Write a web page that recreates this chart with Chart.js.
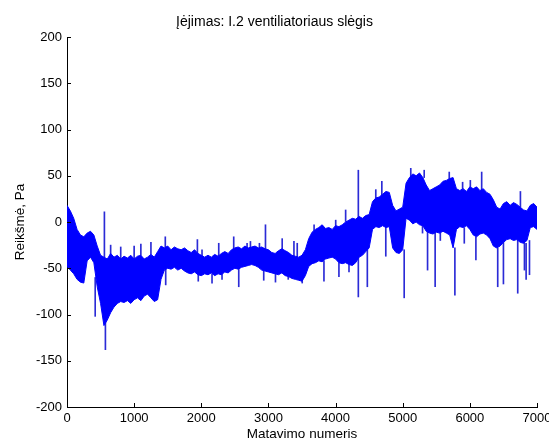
<!DOCTYPE html>
<html>
<head>
<meta charset="utf-8">
<script src="https://cdn.jsdelivr.net/npm/chart.js@4.4.1/dist/chart.umd.min.js"></script>
<style>
  body { margin: 0; background: #fff; }
  canvas { display: block; }
</style>
</head>
<body>
<canvas id="chart" width="549" height="446"></canvas>
<script>
// envelope of the measured signal, one value every 50 samples (0 .. 7000)
var upperVals = [18, 12, 4, -8, -14, -16, -12, -10, -14, -26, -36, -38, -40, -34, -38, -36, -40, -37, -39, -36,
  -40, -37, -36, -40, -38, -35, -38, -32, -26, -28, -26, -30, -27, -29, -30, -28, -31, -33, -30, -34,
  -36, -38, -36, -38, -35, -37, -34, -32, -34, -30, -28, -27, -29, -26, -28, -27, -26, -28, -27, -29,
  -30, -33, -34, -31, -29, -31, -33, -36, -37, -38, -36, -30, -18, -11, -8, -6, -3, -7, -6, -8,
  -4, -5, -3, 0, 2, 4, 3, 6, 4, 7, 8, 22, 26, 27, 30, 33, 32, 18, 12, 14,
  16, 42, 48, 52, 50, 53, 48, 40, 34, 36, 38, 40, 44, 45, 47, 48, 36, 34, 36, 33,
  38, 36, 38, 34, 36, 32, 30, 24, 16, 14, 20, 22, 18, 21, 19, 16, 13, 12, 18, 20, 16];

var lowerVals = [-48, -52, -56, -62, -65, -66, -42, -38, -44, -70, -88, -112, -106, -98, -92, -88, -86, -87, -85, -88,
  -84, -82, -85, -80, -78, -82, -86, -84, -62, -52, -50, -51, -49, -52, -50, -53, -55, -56, -54, -57,
  -58, -56, -57, -55, -58, -56, -57, -54, -55, -52, -50, -51, -49, -48, -47, -46, -47, -49, -52, -53,
  -54, -55, -56, -57, -55, -58, -59, -61, -62, -63, -64, -58, -48, -45, -44, -42, -43, -40, -39, -38,
  -40, -44, -45, -44, -46, -47, -44, -38, -36, -32, -28, -8, -5, -6, -4, -6, -5, -28, -33, -34,
  -30, 4, 2, -2, 0, -3, -4, -10, -12, -13, -11, -12, -10, -12, -14, -28, -8, -5, -6, -4,
  -8, -14, -16, -13, -12, -14, -18, -26, -28, -26, -22, -19, -18, -20, -19, -22, -23, -20, -6, -5, -8];

// single outlier samples that stick out of the band
var spikeX    = [420, 557, 572, 650, 800, 1000, 1100, 1250, 1464, 1470, 1942, 1955, 2011, 2160, 2260, 2309, 2483, 2558,
  2682, 2732, 2866, 2930, 2956, 3105, 3205, 3295, 3380, 3429, 3503, 3680, 3827, 4002, 4050, 4150, 4200, 4339,
  4473, 4599, 4689, 4748, 5022, 5120, 5295, 5320, 5370, 5483, 5560, 5693, 5777, 5892, 5917, 6007, 6090, 6176,
  6415, 6500, 6713, 6753, 6813, 6838, 6888];
var spikeLow  = [-102, -40, -138, -36, -40, -40, -36, -35, -30, -68, -36, -64, -38, -66, -37, -62, -32, -70,
  -30, -28, -30, -63, -30, -65, -33, -62, -37, -38, -66, -10, -64, -8, -59, 0, -54, -81,
  -70, 26, 28, -37, -82, 48, -12, 48, -52, -70, -20, 45, -79, 36, -23, 38, -41, 34,
  -70, -67, -77, 16, -52, -62, -57];
var spikeHigh = [-60, 11, -90, -25, -27, -26, -24, -22, -16, -50, -19, -55, -30, -56, -23, -56, -16, -50,
  -23, -21, -23, -52, -3, -55, -18, -58, -21, -23, -62, -3, -42, 2, -44, 13, -46, 56,
  -30, 35, 44, -5, -30, 58, -1, 56, -10, -12, -12, 54, -28, 43, -6, 45, -16, 54,
  -28, -22, -19, 33, -23, -23, -20];

var xTicks = [0, 1000, 2000, 3000, 4000, 5000, 6000, 7000];
var yTicks = [-200, -150, -100, -50, 0, 50, 100, 150, 200];

var sampleIdx = upperVals.map(function(v, i) { return i * 50; });
var fontFam = "'Liberation Sans', Arial, Helvetica, sans-serif";
var blue = '#0000ff';

// MATLAB style tick marks drawn on the inside of the axes
var innerTicks = {
  id: 'innerTicks',
  afterDraw: function(chart) {
    var ctx = chart.ctx, a = chart.chartArea;
    var xs = chart.scales.x, ys = chart.scales.y;
    ctx.save();
    ctx.strokeStyle = '#000';
    ctx.lineWidth = 1;
    ctx.beginPath();
    xTicks.forEach(function(t) {
      var p = Math.round(xs.getPixelForValue(t)) + 0.5;
      ctx.moveTo(p, a.bottom);
      ctx.lineTo(p, a.bottom - 4);
    });
    yTicks.forEach(function(t) {
      var p = Math.round(ys.getPixelForValue(t)) + 0.5;
      ctx.moveTo(a.left, p);
      ctx.lineTo(a.left + 4, p);
    });
    ctx.stroke();
    ctx.restore();
  }
};

var config = {
  type: 'line',
  data: {
    datasets: [{
      label: 'upper',
      data: sampleIdx.map(function(x, i) { return {x: x, y: upperVals[i]}; }),
      borderColor: blue,
      borderWidth: 1,
      pointRadius: 0,
      fill: false
    }, {
      label: 'lower',
      data: sampleIdx.map(function(x, i) { return {x: x, y: lowerVals[i]}; }),
      borderColor: blue,
      borderWidth: 1,
      pointRadius: 0,
      backgroundColor: blue,
      fill: '-1'
    }, {
      type: 'bar',
      label: 'spikes',
      data: spikeX.map(function(x, i) { return {x: x, y: [spikeLow[i], spikeHigh[i]]}; }),
      backgroundColor: 'rgba(20,20,210,0.9)',
      barThickness: 1,
      grouped: false
    }]
  },
  options: {
    responsive: false,
    animation: false,
    devicePixelRatio: 1,
    layout: { padding: 0 },
    plugins: {
      legend: { display: false },
      tooltip: { enabled: false },
      title: {
        display: true,
        text: 'Įėjimas: I.2 ventiliatoriaus slėgis',
        color: '#000',
        font: { family: fontFam, size: 14, weight: 'normal' },
        padding: { top: 13.6, bottom: 6.6 }
      }
    },
    scales: {
      x: {
        type: 'linear',
        min: 0,
        max: 7000,
        offset: false,
        afterBuildTicks: function(s) { s.ticks = xTicks.map(function(v) { return {value: v}; }); },
        afterFit: function(s) { s.height = 39; s.paddingLeft = 0; s.paddingRight = 12; },
        grid: { display: true, drawOnChartArea: false, drawTicks: false },
        border: { display: true, color: '#000', width: 1 },
        ticks: {
          color: '#000', padding: 4, maxRotation: 0, autoSkip: false,
          font: { family: fontFam, size: 13 },
          callback: function(v) { return String(v); }
        },
        title: {
          display: true, text: 'Matavimo numeris', color: '#000',
          font: { family: fontFam, size: 13.5 }, padding: { top: 0, bottom: 3.9 }
        }
      },
      y: {
        type: 'linear',
        min: -200,
        max: 200,
        afterBuildTicks: function(s) { s.ticks = yTicks.map(function(v) { return {value: v}; }); },
        afterFit: function(s) { s.width = 67; s.paddingTop = 0; s.paddingBottom = 0; },
        grid: { display: true, drawOnChartArea: false, drawTicks: false },
        border: { display: true, color: '#000', width: 1 },
        ticks: {
          color: '#000', padding: 5, autoSkip: false,
          font: { family: fontFam, size: 13 },
          callback: function(v) { return String(v); }
        },
        title: {
          display: true, text: 'Reikšmė, Pa', color: '#000',
          font: { family: fontFam, size: 13.5 }, padding: { top: 12, bottom: 0 }
        }
      }
    }
  },
  plugins: [innerTicks]
};

var ctx = document.getElementById('chart');
window.myChart = new Chart(ctx, config);
</script>
</body>
</html>
